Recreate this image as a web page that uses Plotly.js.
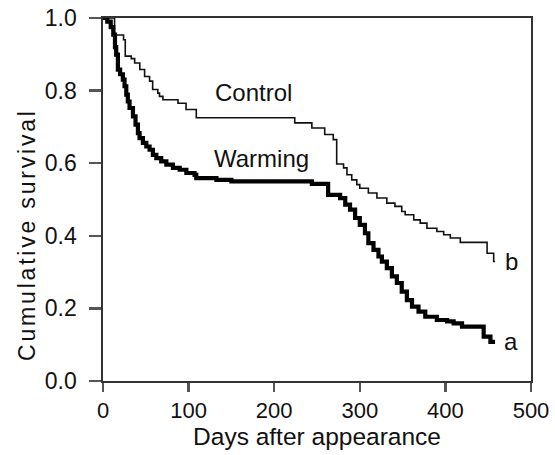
<!DOCTYPE html>
<html>
<head>
<meta charset="utf-8">
<script src="https://cdn.plot.ly/plotly-3.0.1.min.js"></script>
<style>
html,body{margin:0;padding:0;background:#fff;}
#chart{width:555px;height:455px;}
#chart g.annotation[data-index="4"] text{letter-spacing:2.8px;}
</style>
</head>
<body>
<div id="chart"></div>
<script>
// Control group (thin line): day of step, survival after step
const controlDays = [0, 13.5, 24, 26, 33, 37, 43, 48.6, 54.4, 58, 64, 66, 70, 87.6, 97, 109, 224, 244, 259, 269, 273, 281, 285, 290.6, 296.5, 300, 310, 320, 331.6, 341, 349, 353, 363, 370.6, 378.4, 390, 398, 405.7, 417.4, 448.7, 456.4, 458];
const controlSurv = [1.0, 0.953, 0.94, 0.895, 0.888, 0.876, 0.858, 0.839, 0.826, 0.803, 0.793, 0.784, 0.775, 0.765, 0.748, 0.725, 0.711, 0.697, 0.679, 0.665, 0.598, 0.587, 0.568, 0.554, 0.541, 0.531, 0.518, 0.504, 0.490, 0.481, 0.467, 0.458, 0.444, 0.435, 0.421, 0.412, 0.403, 0.394, 0.382, 0.352, 0.329, 0.329];

// Warming group (thick line)
const warmingDays = [0, 5, 9, 12, 14, 15.4, 17.4, 20, 23.2, 25.2, 27.2, 29, 31, 35, 38, 40.8, 42.7, 46.6, 50.6, 54.4, 58.3, 62.3, 68, 74, 81.7, 89.6, 97.4, 107, 109, 132.5, 150, 244, 263, 277, 283, 288.6, 294.5, 300, 306, 310, 316, 321.8, 325.8, 331.6, 337.5, 343.3, 349, 355, 361, 368.6, 376.5, 390, 402, 409.6, 419.4, 444.7, 452.6, 458];
const warmingSurv = [1.0, 0.99, 0.975, 0.954, 0.92, 0.899, 0.858, 0.845, 0.830, 0.812, 0.789, 0.77, 0.752, 0.729, 0.706, 0.683, 0.669, 0.656, 0.646, 0.637, 0.623, 0.614, 0.605, 0.596, 0.587, 0.582, 0.573, 0.568, 0.559, 0.554, 0.550, 0.543, 0.513, 0.504, 0.486, 0.472, 0.449, 0.430, 0.407, 0.380, 0.361, 0.343, 0.329, 0.311, 0.288, 0.270, 0.246, 0.223, 0.205, 0.191, 0.177, 0.168, 0.164, 0.159, 0.150, 0.122, 0.108, 0.108];

const xTicks = [0, 100, 200, 300, 400, 500];
const yTicks = [0, 0.2, 0.4, 0.6, 0.8, 1.0];
const yTickLabels = ['0.0', '0.2', '0.4', '0.6', '0.8', '1.0'];

const FONT = 'Liberation Sans, Arial, Helvetica, sans-serif';

const traces = [
  {x: controlDays, y: controlSurv, type: 'scatter', mode: 'lines', line: {shape: 'hv', color: '#111', width: 1.6}, hoverinfo: 'skip'},
  {x: warmingDays, y: warmingSurv, type: 'scatter', mode: 'lines', line: {shape: 'hv', color: '#000', width: 4.2}, hoverinfo: 'skip'}
];

const layout = {
  width: 555, height: 455,
  margin: {l: 103, r: 24, t: 18, b: 74, pad: 0},
  paper_bgcolor: '#fff', plot_bgcolor: '#fff',
  showlegend: false,
  font: {family: FONT, size: 22, color: '#111'},
  xaxis: {
    range: [0, 500], tickvals: xTicks, ticktext: xTicks.map(String),
    ticks: 'outside', ticklen: 9, tickwidth: 2.5, tickcolor: '#555',
    showline: true, linecolor: '#333', linewidth: 1.6, mirror: true,
    showgrid: false, zeroline: false, fixedrange: true,
    tickfont: {family: FONT, size: 22, color: '#111'},
    title: {text: 'Days after appearance', font: {family: FONT, size: 24.5, color: '#111'}, standoff: 5}
  },
  yaxis: {
    range: [0, 1.0], tickvals: yTicks, ticktext: yTickLabels,
    ticks: 'outside', ticklen: 12, tickwidth: 2.5, tickcolor: '#555',
    ticklabelstandoff: 8,
    showline: true, linecolor: '#333', linewidth: 1.6, mirror: true,
    showgrid: false, zeroline: false, fixedrange: true,
    tickfont: {family: FONT, size: 23, color: '#111'}
  },
  annotations: [
    {x: 176, y: 0.795, xref: 'x', yref: 'y', text: 'Control', showarrow: false, font: {family: FONT, size: 24, color: '#111'}},
    {x: 185, y: 0.612, xref: 'x', yref: 'y', text: 'Warming', showarrow: false, font: {family: FONT, size: 24, color: '#111'}},
    {x: 477, y: 0.328, xref: 'x', yref: 'y', text: 'b', showarrow: false, font: {family: FONT, size: 24, color: '#111'}},
    {x: 477, y: 0.11, xref: 'x', yref: 'y', text: 'a', showarrow: false, font: {family: FONT, size: 24, color: '#111'}},
    {x: -0.177, y: 0.402, xref: 'paper', yref: 'y', xanchor: 'center', yanchor: 'middle', textangle: -90,
     text: 'Cumulative survival', showarrow: false, font: {family: FONT, size: 23, color: '#111'}}
  ]
};

Plotly.newPlot('chart', traces, layout, {displayModeBar: false, staticPlot: true});
</script>
</body>
</html>
